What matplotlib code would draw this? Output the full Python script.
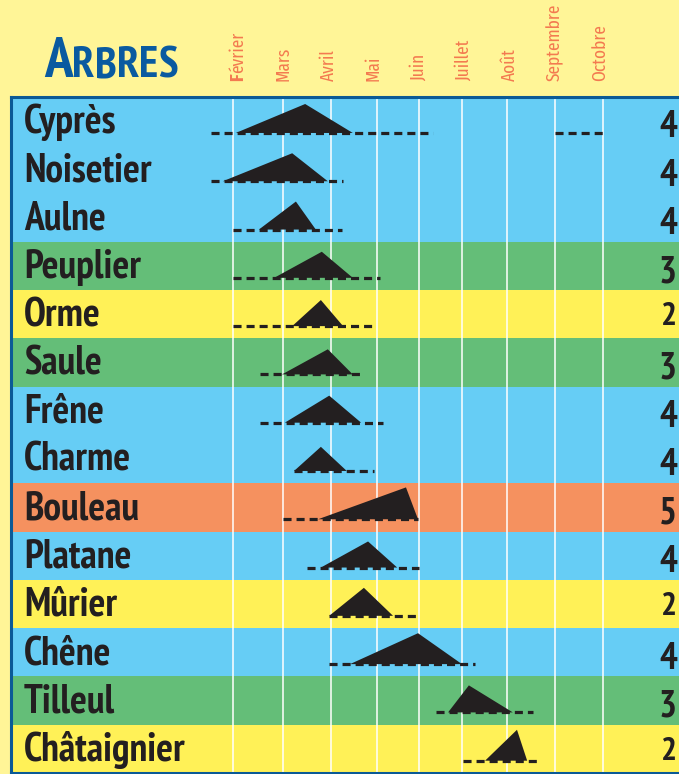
import matplotlib
matplotlib.use("Agg")
import matplotlib.pyplot as plt

trees = ["Cyprès", "Noisetier", "Aulne", "Peuplier", "Orme", "Saule", "Frêne",
         "Charme", "Bouleau", "Platane", "Mûrier", "Chêne", "Tilleul", "Châtaignier"]
levels = [4, 4, 4, 3, 2, 3, 4, 4, 5, 4, 2, 4, 3, 2]

months = ["Février", "Mars", "Avril", "Mai", "Juin", "Juillet", "Août", "Septembre", "Octobre"]
month_x = [2.0, 3.08, 4.12, 5.11, 6.02, 6.95, 7.92, 8.96, 10.0]

# dashed line = pollen present
dash_start = [1.52, 1.52, 2.0, 2.0, 2.0, 2.58, 2.58, 3.32, 3.08, 3.60, 4.08, 4.08, 6.39, 6.97]
dash_end = [6.32, 4.38, 4.36, 5.18, 5.05, 4.83, 5.24, 5.05, 6.0, 6.02, 6.02, 7.23, 8.49, 8.62]
# second dashed period (cyprès, autumn)
extra_row = [0]
extra_start = [8.96]
extra_end = [10.0]

# triangle = main pollen season
tri_start = [2.06, 1.78, 2.56, 2.89, 3.28, 3.06, 3.12, 3.32, 3.84, 3.90, 4.08, 4.53, 6.65, 7.45]
tri_peak = [3.56, 3.28, 3.36, 3.92, 3.90, 4.05, 4.08, 3.90, 5.74, 4.92, 4.83, 6.0, 7.10, 8.14]
tri_end = [4.59, 4.05, 3.79, 4.59, 4.38, 4.59, 4.77, 4.46, 6.0, 5.55, 5.46, 6.95, 8.05, 8.36]
tri_height = [0.60, 0.58, 0.58, 0.54, 0.54, 0.52, 0.56, 0.50, 0.66, 0.54, 0.58, 0.64, 0.56, 0.64]

level_colors = {2: "#fff157", 3: "#64be78", 4: "#66cdf5", 5: "#f5915f"}

cond = ["PT Sans Narrow", "Fira Sans Condensed", "Barlow Semi Condensed", "DejaVu Sans"]
light = ["Fira Sans Extra Condensed", "Barlow Condensed", "Fira Sans Condensed", "DejaVu Sans"]
ink = "#231f20"
orange = "#f37a50"

plt.rcParams["lines.scale_dashes"] = False
W, H = 679, 774
fig = plt.figure(figsize=(W / 100, H / 100), dpi=100, facecolor="#fff597")

# table axes, pixel frame 11..679 x 97..773
ax = fig.add_axes([11 / W, 1 / H, (W - 11) / W, 676 / H])
ax.set_xlim(-2.80, 11.643)
ax.set_ylim(len(trees), 0)
ax.axis("off")

n = len(trees)
base = 0.745
ax.barh([i + 0.5 for i in range(n)], 11.643 + 2.80, left=-2.80, height=1.0,
        color=[level_colors[l] for l in levels], zorder=0)
ax.vlines(month_x, 0, n, color="white", lw=1.3, alpha=0.85, zorder=1)

ytr = ax.get_yaxis_transform()
for i in range(n):
    y0 = i + base
    ax.fill([tri_start[i], tri_peak[i], tri_end[i]], [y0, y0 - tri_height[i], y0],
            color=ink, lw=0, zorder=2)
    ax.plot([dash_start[i], dash_end[i]], [y0, y0], color=ink, lw=2.3,
            dashes=(5.8, 3.6), dash_capstyle="butt", zorder=3)
    ax.text(0.0195, y0, trees[i], transform=ytr, ha="left", va="baseline",
            fontsize=28.5, fontweight="bold", family=cond, color=ink)
    if levels[i] == 2:
        ax.text(0.997, i + 0.56, str(levels[i]), transform=ytr, ha="right", va="center",
                fontsize=24, fontweight="bold", family=cond, color=ink)
    else:
        ax.text(0.997, i + 0.64, str(levels[i]), transform=ytr, ha="right", va="center",
                fontsize=27, fontweight="bold", family=cond, color=ink)

for r, s, e in zip(extra_row, extra_start, extra_end):
    ax.plot([s, e], [r + base, r + base], color=ink, lw=2.3,
            dashes=(5.8, 3.6), dash_capstyle="butt", zorder=3)

# frame of the table
for x0, y0, x1, y1 in [(11, 97, 679, 97), (11, 97, 11, 773), (11, 773, 679, 773)]:
    fig.add_artist(plt.Line2D([x0 / W, x1 / W], [1 - y0 / H, 1 - y1 / H],
                              color="#0b5a96", lw=2.2, transform=fig.transFigure))

# title in small caps
rend = fig.canvas.get_renderer()
x = 44
for k, ch in enumerate("ARBRES"):
    t = fig.text(x / W, 1 - 77 / H, ch, fontsize=41 if k == 0 else 32, fontweight="bold",
                 style="italic", family=cond, color="#0a5aa0", ha="left", va="baseline")
    x = t.get_window_extent(rend).x1

# month labels
for k, m in enumerate(months):
    px = (238 + 45.2 * k) / W
    if m == "Février":
        t = fig.text(px, 1 - 81 / H, "F", rotation=90, fontsize=13.5, fontweight="bold",
                     family=light, color=orange, ha="center", va="bottom")
        top = t.get_window_extent(rend).y1
        fig.text(px, top / H, "évrier", rotation=90, fontsize=13.5,
                 family=light, color=orange, ha="center", va="bottom")
    else:
        fig.text(px, 1 - 81 / H, m, rotation=90, fontsize=13.5,
                 family=light, color=orange, ha="center", va="bottom")

fig.savefig("out.png", dpi=100, facecolor=fig.get_facecolor())
